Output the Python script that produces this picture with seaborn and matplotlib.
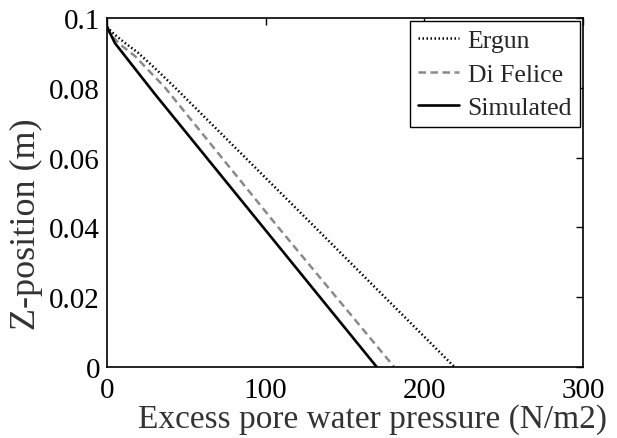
import matplotlib
matplotlib.use("Agg")
import matplotlib.pyplot as plt
import seaborn as sns
import pandas as pd

# Data
ergun_x = [0, 3, 10, 19.7, 30, 42.8, 131, 219]
ergun_z = [0.0975, 0.0960, 0.0933, 0.0900, 0.0857, 0.0801, 0.0401, 0.0]
difelice_x = [0, 1.9, 8, 17.6, 27, 36.5, 107.8, 181]
difelice_z = [0.0975, 0.0955, 0.0925, 0.0891, 0.0846, 0.0801, 0.0401, 0.0]
sim_x = [0, 5, 30.2, 170]
sim_z = [0.0975, 0.0928, 0.0782, 0.0]

x_ticks = [0, 100, 200, 300]
y_ticks = [0, 0.02, 0.04, 0.06, 0.08, 0.1]
y_tick_labels = ["0", "0.02", "0.04", "0.06", "0.08", "0.1"]

sns.set_theme(style="white")
plt.rcParams['font.family'] = ['Liberation Serif', 'DejaVu Serif']

fig = plt.figure(figsize=(6.17, 4.39), dpi=100)
ax = fig.add_axes([107/617, 1-368/439, (583-107)/617, (368-19)/439])

df_e = pd.DataFrame({"x": ergun_x, "z": ergun_z})
df_d = pd.DataFrame({"x": difelice_x, "z": difelice_z})
df_s = pd.DataFrame({"x": sim_x, "z": sim_z})

sns.lineplot(data=df_e, x="x", y="z", ax=ax, color="black", lw=1.8,
             linestyle=(0, (0.6, 1.0)), label="Ergun", sort=False, estimator=None)
sns.lineplot(data=df_d, x="x", y="z", ax=ax, color="#8a8a8a", lw=1.8,
             linestyle=(0, (3.0, 1.8)), label="Di Felice", sort=False, estimator=None)
sns.lineplot(data=df_s, x="x", y="z", ax=ax, color="black", lw=1.9,
             linestyle="-", label="Simulated", sort=False, estimator=None)

ax.set_xlim(0, 300)
ax.set_ylim(0, 0.1)
ax.set_xticks(x_ticks)
ax.set_xticklabels([str(t) for t in x_ticks])
ax.set_yticks(y_ticks)
ax.set_yticklabels(y_tick_labels)
ax.tick_params(direction="in", length=5, width=1, top=True, right=True,
               labelsize=21, colors="black")
ax.tick_params(axis="x", pad=7)
ax.tick_params(axis="y", pad=5)
for s in ax.spines.values():
    s.set_color("black")
    s.set_linewidth(1.2)

ax.set_xlabel("Excess pore water pressure (N/m2)", fontsize=24, color="#333333")
ax.set_ylabel("Z-position (m)", fontsize=26, color="#333333")
ax.xaxis.set_label_coords(0.557, -0.105, transform=ax.transAxes)
ax.xaxis.label.set_va("top")
ax.yaxis.set_label_coords(-0.135, 0.413, transform=ax.transAxes)
ax.yaxis.label.set_va("bottom")

leg = ax.legend(loc="upper right", fontsize=18.5, frameon=True, fancybox=False,
                borderaxespad=0.12, handlelength=1.6, handletextpad=0.35,
                borderpad=0.3, labelspacing=0.42)
leg.get_frame().set_edgecolor("black")
leg.get_frame().set_linewidth(1.0)
leg.get_frame().set_alpha(1)

fig.savefig("out.png", dpi=100)
